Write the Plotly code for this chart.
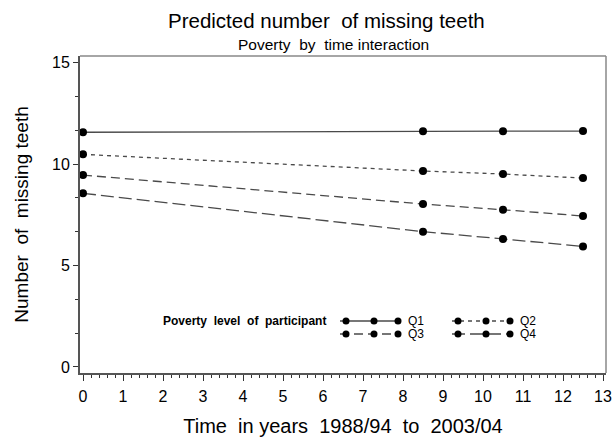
import plotly.graph_objects as go

# Follow-up times (years since 1988/94) and predicted missing teeth per poverty quartile
time_years = [0, 8.5, 10.5, 12.5]
q1_teeth = [11.57, 11.62, 11.62, 11.63]
q2_teeth = [10.48, 9.66, 9.51, 9.31]
q3_teeth = [9.46, 8.03, 7.75, 7.44]
q4_teeth = [8.56, 6.67, 6.31, 5.94]

group_names = ["Q1", "Q2", "Q3", "Q4"]
x_ticks = list(range(0, 14))
y_ticks = [0, 5, 10, 15]

W, H = 613, 444
M_L, M_R, M_T, M_B = 80, 7, 56, 71
PLOT_W, PLOT_H = W - M_L - M_R, H - M_T - M_B

FONT = "Liberation Sans, Arial, sans-serif"
LINE_COL = "#4a4a4a"
DASHES = {"Q1": "solid", "Q2": "4px,4px", "Q3": "9px,5px", "Q4": "13px,5px"}
SERIES = {"Q1": q1_teeth, "Q2": q2_teeth, "Q3": q3_teeth, "Q4": q4_teeth}


def page_to_paper(px, py):
    """Convert a page pixel position to plot-area paper coordinates."""
    return (px - M_L) / PLOT_W, (H - M_B - py) / PLOT_H


fig = go.Figure()

for name in group_names:
    fig.add_trace(go.Scatter(
        x=time_years, y=SERIES[name], mode="lines+markers", name=name,
        line=dict(color=LINE_COL, width=1.3, dash=DASHES[name]),
        marker=dict(color="black", size=8),
        showlegend=False, cliponaxis=False,
    ))

# Legend key: drawn on a hidden overlay axis measured in page pixels
key_rows = {"Q1": (340, 321), "Q3": (340, 334), "Q2": (452, 321), "Q4": (452, 334)}
for name in group_names:
    x0, y0 = key_rows[name]
    xs = [x0, x0 + 6, x0 + 34, x0 + 58]
    fig.add_trace(go.Scatter(
        x=xs, y=[y0] * 4, xaxis="x2", yaxis="y2", mode="lines",
        line=dict(color=LINE_COL, width=1.3, dash=DASHES[name]),
        showlegend=False, hoverinfo="skip",
    ))
    fig.add_trace(go.Scatter(
        x=xs[1:], y=[y0] * 3, xaxis="x2", yaxis="y2", mode="markers",
        marker=dict(color="black", size=7),
        showlegend=False, hoverinfo="skip",
    ))
    fig.add_annotation(x=x0 + 66, y=y0, xref="x2", yref="y2", text=name,
                       showarrow=False, xanchor="left", yanchor="middle",
                       font=dict(family=FONT, size=12, color="black"))

fig.add_annotation(x=328, y=320.5, xref="x2", yref="y2",
                   text="<b>Poverty  level  of  participant</b>",
                   showarrow=False, xanchor="right", yanchor="middle",
                   font=dict(family=FONT, size=12, color="black"))

# Titles
tx, ty = page_to_paper(326, 20)
fig.add_annotation(x=tx, y=ty, xref="paper", yref="paper",
                   text="Predicted number  of missing teeth", showarrow=False,
                   xanchor="center", yanchor="middle",
                   font=dict(family=FONT, size=20.5, color="black"))
sx, sy = page_to_paper(333, 44)
fig.add_annotation(x=sx, y=sy, xref="paper", yref="paper",
                   text="Poverty  by  time interaction", showarrow=False,
                   xanchor="center", yanchor="middle",
                   font=dict(family=FONT, size=15.5, color="black"))

fig.update_layout(
    width=W, height=H,
    margin=dict(l=M_L, r=M_R, t=M_T, b=M_B, autoexpand=False),
    paper_bgcolor="white", plot_bgcolor="white",
    font=dict(family=FONT, color="black"),
    xaxis=dict(
        range=[-0.075, 13.075], tickvals=x_ticks, ticks="outside", ticklen=6,
        tickwidth=1.2, tickcolor="#333", showgrid=False, zeroline=False,
        showline=True, linecolor="#555", linewidth=2,
        tickfont=dict(family=FONT, size=16), ticklabelstandoff=2,
        minor=dict(dtick=0.2, ticks="outside", ticklen=3, tickcolor="#333", tickwidth=1),
        title=dict(text="Time  in years  1988/94  to  2003/04",
                   font=dict(family=FONT, size=20), standoff=15),
    ),
    yaxis=dict(
        range=[-0.3, 15.33], tickvals=y_ticks, ticks="outside", ticklen=5,
        tickwidth=1.2, tickcolor="#333", showgrid=False, zeroline=False,
        showline=True, linecolor="#555", linewidth=2,
        tickfont=dict(family=FONT, size=16),
        minor=dict(dtick=5 / 3, ticks="outside", ticklen=3, tickcolor="#333", tickwidth=1),
        title=dict(text="Number  of  missing teeth",
                   font=dict(family=FONT, size=19), standoff=18),
    ),
    xaxis2=dict(overlaying="x", range=[M_L, W - M_R], visible=False, fixedrange=True),
    yaxis2=dict(overlaying="y", range=[H - M_B, M_T], visible=False, fixedrange=True),
    shapes=[
        dict(type="line", xref="paper", yref="paper", x0=0, x1=1, y0=1, y1=1,
             line=dict(color="#888", width=1.5)),
        dict(type="line", xref="paper", yref="paper", x0=1, x1=1, y0=0, y1=1,
             line=dict(color="#888", width=1.5)),
    ],
)

fig.write_html("out.html")
